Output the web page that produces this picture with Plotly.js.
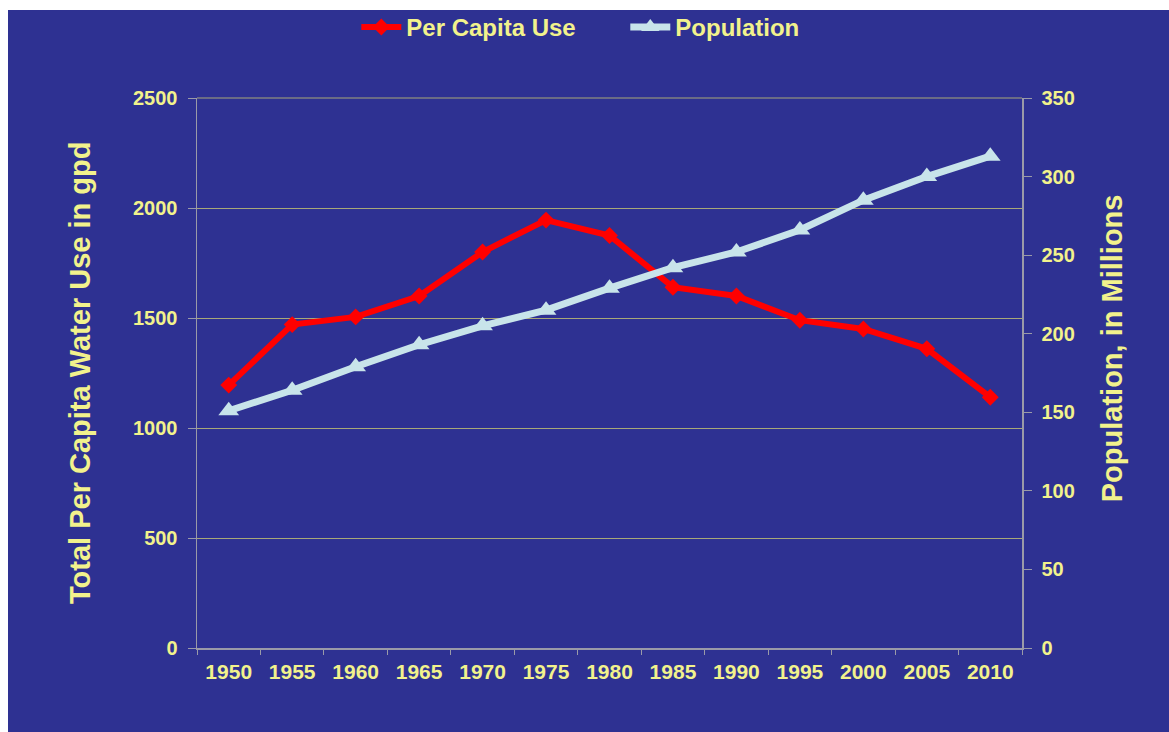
<!DOCTYPE html>
<html>
<head>
<meta charset="utf-8">
<script src="https://cdn.plot.ly/plotly-3.0.1.min.js"></script>
<style>
html,body{margin:0;padding:0;background:#ffffff;}
#chart{position:absolute;left:8px;top:10px;width:1161px;height:722px;}
</style>
</head>
<body>
<div id="chart"></div>
<script>
const years = ['1950','1955','1960','1965','1970','1975','1980','1985','1990','1995','2000','2005','2010'];
const perCapitaUse = [1195, 1470, 1505, 1600, 1800, 1945, 1875, 1640, 1600, 1490, 1450, 1360, 1140];
const population = [151, 164, 179, 193, 205, 215, 229, 242, 252, 266, 285, 300, 313];
const leftTicks = [0, 500, 1000, 1500, 2000, 2500];
const rightTicks = [0, 50, 100, 150, 200, 250, 300, 350];

const yellow = '#f2f28c';
const fam = 'Liberation Sans, Arial, sans-serif';
const axisGrey = '#9a9aa8';
const gridOlive = '#a8a878';

const traces = [
  {
    x: years, y: perCapitaUse, name: 'Per Capita Use', type: 'scatter', mode: 'lines+markers',
    line: {color: '#ff0000', width: 6},
    marker: {symbol: 'diamond', size: 13, color: '#ff0000'},
    yaxis: 'y'
  },
  {
    x: years, y: population, name: 'Population', type: 'scatter', mode: 'lines+markers',
    line: {color: '#c8e4ea', width: 7},
    marker: {symbol: 'triangle-up', size: 18, color: '#c8e4ea'},
    yaxis: 'y2'
  }
];

const layout = {
  width: 1161, height: 722,
  paper_bgcolor: '#2e3192',
  plot_bgcolor: '#2e3192',
  margin: {l: 189, r: 147, t: 88, b: 84},
  font: {family: fam, color: yellow},
  showlegend: true,
  legend: {
    orientation: 'h', xref: 'container', x: 0.3, xanchor: 'left',
    yref: 'container', y: 0.976, yanchor: 'middle',
    font: {family: fam, size: 24, color: yellow, weight: 'bold'},
    bgcolor: 'rgba(0,0,0,0)', itemwidth: 40, entrywidth: 214
  },
  shapes: [
    {type: 'line', xref: 'x domain', yref: 'y domain', x0: 0, x1: 1, y0: 1, y1: 1,
     line: {color: gridOlive, width: 1}, layer: 'below'}
  ],
  annotations: [
    {text: 'Total Per Capita Water Use in gpd', textangle: -90, showarrow: false,
     xref: 'paper', yref: 'paper', x: (80 - 197) / 825, y: 0.5,
     xanchor: 'center', yanchor: 'middle',
     font: {family: fam, size: 29, color: yellow, weight: 'bold'}},
    {text: 'Population, in Millions', textangle: -90, showarrow: false,
     xref: 'paper', yref: 'paper', x: (1112 - 197) / 825, y: 0.545,
     xanchor: 'center', yanchor: 'middle',
     font: {family: fam, size: 29, color: yellow, weight: 'bold'}}
  ],
  xaxis: {
    type: 'category', categoryorder: 'array', categoryarray: years,
    range: [-0.5, years.length - 0.5],
    showgrid: false, showline: true, linecolor: axisGrey, linewidth: 1.5,
    ticks: 'outside', ticklen: 5, tickcolor: axisGrey, tickson: 'boundaries',
    ticklabelstandoff: 4,
    tickfont: {family: fam, size: 21, color: yellow, weight: 'bold'},
    zeroline: false
  },
  yaxis: {
    range: [0, 2500], tickvals: leftTicks, ticktext: leftTicks.map(String),
    showgrid: true, gridcolor: gridOlive, gridwidth: 1,
    showline: true, linecolor: axisGrey, linewidth: 1.5,
    ticks: 'outside', ticklen: 8, tickcolor: axisGrey,
    ticklabelstandoff: 6,
    tickfont: {family: fam, size: 20, color: yellow, weight: 'bold'},
    zeroline: false
  },
  yaxis2: {
    range: [0, 350], tickvals: rightTicks, ticktext: rightTicks.map(String),
    overlaying: 'y', side: 'right', showgrid: false,
    showline: true, linecolor: axisGrey, linewidth: 1.5,
    ticks: 'outside', ticklen: 8, tickcolor: axisGrey,
    ticklabelstandoff: 6,
    tickfont: {family: fam, size: 20, color: yellow, weight: 'bold'},
    zeroline: false
  }
};

Plotly.newPlot('chart', traces, layout, {displayModeBar: false, staticPlot: true});
</script>
</body>
</html>
